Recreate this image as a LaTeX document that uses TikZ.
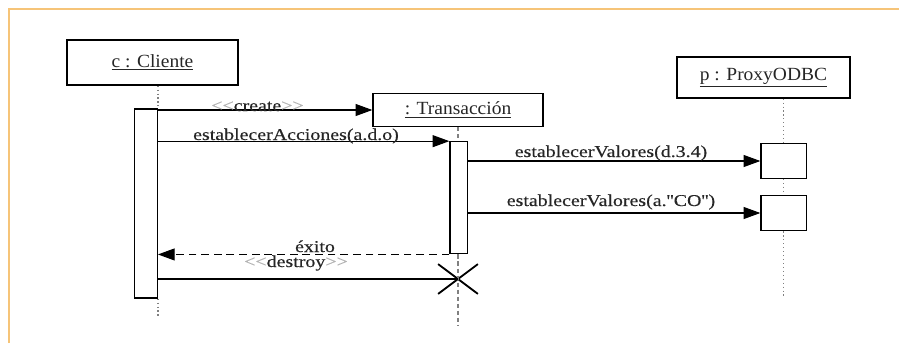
\documentclass[tikz,border=0pt]{standalone}
\usepackage{fontspec}
\setmainfont{Liberation Serif}
\newfontfamily\boxfont[FakeStretch=1.05]{Liberation Serif}
\newfontfamily\msgfont[FakeStretch=1.2,FakeBold=0.3]{Liberation Serif}
\usetikzlibrary{arrows.meta,positioning,shapes.misc}
\definecolor{framecol}{RGB}{246,196,120}

\begin{document}
\begin{tikzpicture}[x=0.025cm, y=-0.025cm,
    obj/.style={draw, line width=0.9pt, inner sep=0pt, text=black!85,
                font=\boxfont\fontsize{13.2}{15}\selectfont},
    actbar/.style={draw, line width=0.9pt, fill=white, inner sep=0pt},
    msg/.style={line width=0.8pt, -{Triangle[length=0.42cm,width=0.3cm]}},
    ret/.style={msg, dash pattern=on 5.5pt off 3.5pt},
    lbl/.style={font=\msgfont\fontsize{11.8}{13}\selectfont, text=black!85, anchor=base, inner sep=0pt},
    life/.style={gray, line width=0.8pt, dotted},
    lifedash/.style={gray, line width=0.8pt, dash pattern=on 3pt off 2pt},
]
\useasboundingbox (0,0) rectangle (899,343);
\draw[framecol, line width=0.8pt] (9,343) -- (9,9) -- (899,9);

% objects
\node[obj, minimum width=4.275cm, minimum height=1.125cm] (cli) at (152.5,62.5) {\underline{c : Cliente}};
\node[obj, minimum width=4.25cm, minimum height=0.825cm] (trans) at (458,110) {\underline{: Transacción}};
\node[obj, minimum width=4.325cm, minimum height=1.025cm] (prx) at (763.5,77.5) {\underline{p : ProxyODBC}};

% activation bars
\node[actbar, minimum width=0.575cm, minimum height=4.725cm] (actC) at (145.8,203.5) {};
\node[actbar, minimum width=0.43cm, minimum height=2.8cm] (actT) at (458.6,197.8) {};
\node[actbar, minimum width=1.14cm, minimum height=0.86cm] (actP1) at (783.8,161) {};
\node[actbar, minimum width=1.14cm, minimum height=0.89cm] (actP2) at (783.8,213) {};
\node[cross out, draw, line width=1.3pt, minimum width=0.95cm, minimum height=0.7cm] (xT) at (458,279) {};

% lifelines
\draw[life] (actC.north east |- cli.south) -- (actC.north east);
\draw[life] (actC.south east) -- ++(0,19);
\draw[lifedash] (trans.south) -- (trans.south |- actT.north);
\draw[lifedash] (trans.south |- actT.south) -- ++(0,71);
\draw[life] (actP1.north |- prx.south) -- (actP1.north);
\draw[life] (actP1.south) -- (actP2.north);
\draw[life] (actP2.south) -- ++(0,66);

% messages
\draw[msg] (actC.east |- trans.west) -- (trans.west);
\node[lbl] at (257.5,111) {{\color{gray!60}<<}create{\color{gray!60}>>}};
\draw[msg] (actC.east |- actT.north west) -- (actT.north west);
\node[lbl] at (296,140) {establecerAcciones(a.d.o)};
\draw[msg] (actT.east |- actP1.west) -- (actP1.west);
\node[lbl] at (611,157) {establecerValores(d.3.4)};
\draw[msg] (actT.east |- actP2.west) -- (actP2.west);
\node[lbl] at (611,206) {establecerValores(a.''CO'')};
\draw[ret] (actT.south west) -- (actC.east |- actT.south west);
\node[lbl] at (315,252) {éxito};
\node[lbl] at (296,267) {{\color{gray!60}<<}destroy{\color{gray!60}>>}};
\draw[line width=0.8pt] (actC.east |- xT.center) -- (xT.center);
\end{tikzpicture}
\end{document}
